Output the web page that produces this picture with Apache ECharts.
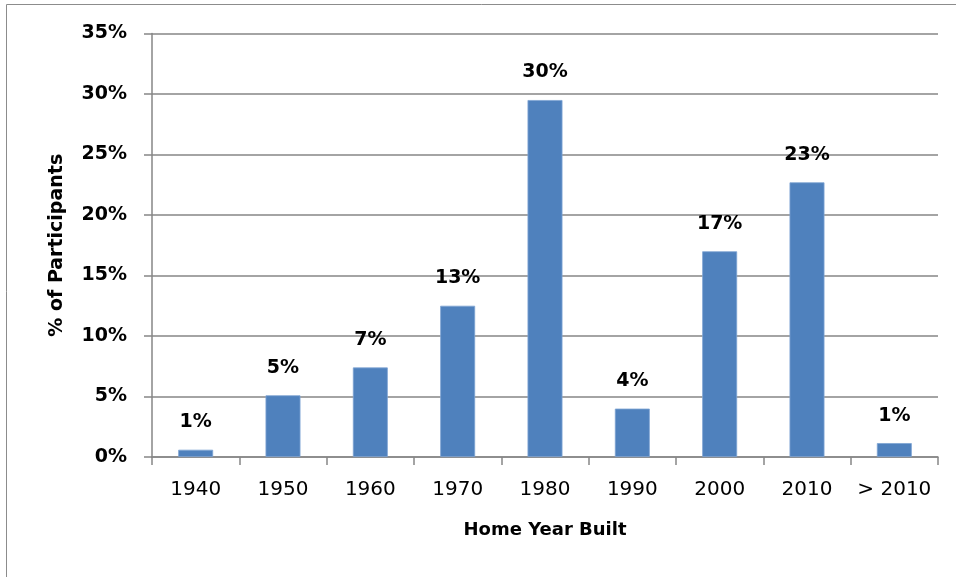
<!DOCTYPE html>
<html><head><meta charset="utf-8">
<script src="https://cdn.jsdelivr.net/npm/echarts@6/dist/echarts.min.js"></script>
<style>html,body{margin:0;padding:0;background:#fff}#c{width:956px;height:577px}</style>
</head><body><div id="c"></div>
<script>
var categories = ['1940','1950','1960','1970','1980','1990','2000','2010','> 2010'];
var values = [0.6, 5.1, 7.4, 12.5, 29.5, 4.0, 17.0, 22.7, 1.15];
var yTicks = [0,5,10,15,20,25,30,35];
var FONT = 'DejaVu Sans';
var chart = echarts.init(document.getElementById('c'));
chart.setOption({
  animation: false,
  graphic: [{type:'rect', shape:{x:6.5,y:4.5,width:1000,height:1000}, style:{fill:'none',stroke:'#8c8c8c',lineWidth:1}, silent:true}],
  grid: {left:152, right:18, top:33.5, bottom:120},
  xAxis: {
    type:'category', data:categories,
    name:'Home Year Built', nameLocation:'middle', nameGap:64,
    nameTextStyle:{fontFamily:FONT, fontWeight:'bold', fontSize:18, color:'#000'},
    axisLine:{lineStyle:{color:'#868686', width:1.5}},
    axisTick:{show:true, interval:0, length:8, alignWithLabel:false, lineStyle:{color:'#868686', width:1.5}},
    axisLabel:{interval:0, fontFamily:FONT, fontSize:20, color:'#000', margin:23}
  },
  yAxis: {
    type:'value', min:0, max:35, interval:5,
    name:'% of Participants', nameLocation:'middle', nameGap:85, nameRotate:90,
    nameTextStyle:{fontFamily:FONT, fontWeight:'bold', fontSize:19, color:'#000'},
    axisLine:{show:true, lineStyle:{color:'#868686', width:1.5}},
    axisTick:{show:true, length:8, lineStyle:{color:'#868686', width:1.5}},
    splitLine:{lineStyle:{color:'#868686', width:1.5}},
    axisLabel:{fontFamily:FONT, fontWeight:'bold', fontSize:19, color:'#000', margin:25,
      formatter:function(v){return v+'%';}}
  },
  series: [{
    type:'bar', data:values, barWidth:'40%',
    itemStyle:{color:'#4F81BD', borderColor:'#7fa4d3', borderWidth:0.8},
    label:{show:true, position:'top', distance:18, fontFamily:FONT, fontWeight:'bold', fontSize:19, color:'#000',
      formatter:function(p){return Math.round(p.value)+'%';}}
  }]
});
</script></body></html>
